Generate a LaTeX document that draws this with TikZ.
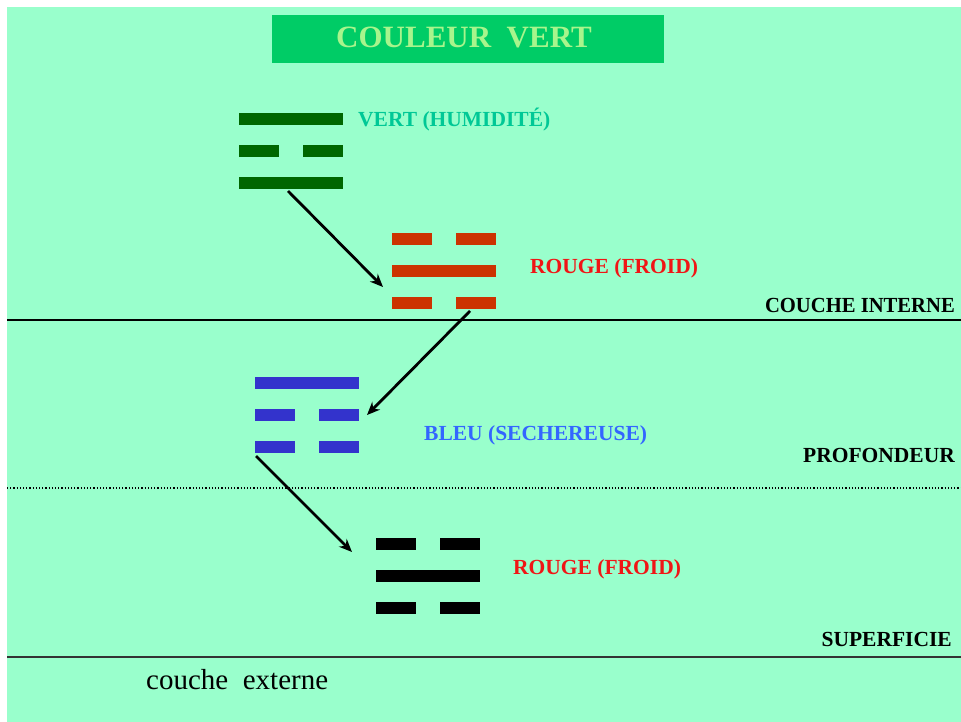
\documentclass[tikz,border=0pt]{standalone}
\usepackage{fontspec}
\setmainfont{Liberation Serif}
\usetikzlibrary{arrows.meta,calc}
\definecolor{mint}{HTML}{99FFCC}
\definecolor{titlegreen}{HTML}{00CC66}
\definecolor{titletext}{HTML}{A8F58C}
\definecolor{trigreen}{HTML}{006600}
\definecolor{trired}{HTML}{CC3300}
\definecolor{triblue}{HTML}{3333CC}
\definecolor{vertlbl}{HTML}{00C896}
\definecolor{rougelbl}{HTML}{F01515}
\definecolor{bleulbl}{HTML}{3366FF}
\newcommand\fullbar[3]{\fill[#3] (#1,#2) rectangle ++(104,12);}
\newcommand\brokenbar[3]{\fill[#3] (#1,#2) rectangle ++(40,12); \fill[#3] ($(#1,#2)+(64,0)$) rectangle ++(40,12);}
\begin{document}
\begin{tikzpicture}[x=1pt,y=-1pt,
  lbl/.style={font=\fontsize{21.5}{24}\selectfont\bfseries, inner sep=0pt},
  tribox/.style={minimum width=104pt, minimum height=76pt, anchor=north west, inner sep=0pt},
  arr/.style={line width=2.8pt, -{Stealth[length=13pt,width=11pt]}}]
\useasboundingbox (0,0) rectangle (961,722);
\fill[white] (0,0) rectangle (961,722);
\fill[mint] (7,7) rectangle (961,722);
% title
\node[fill=titlegreen, minimum width=392pt, minimum height=48pt, anchor=north west, inner sep=0pt] (titlebox) at (272,15) {};
\node[anchor=base, text=titletext, font=\fontsize{31}{34}\selectfont\bfseries, inner sep=0pt] (title) at (464,48) {COULEUR\ \ VERT};
% layer lines
\coordinate (l1a) at (7,320); \coordinate (l1b) at (961,320);
\coordinate (l2a) at (7,488); \coordinate (l2b) at (961,488);
\coordinate (l3a) at (7,657); \coordinate (l3b) at (961,657);
\draw[line width=1.8pt] (l1a) -- (l1b);
\draw[line width=1.2pt, dotted] (l2a) -- (l2b);
\draw[line width=2pt, black!80] (l3a) -- (l3b);
% trigram 1 (green)
\node[tribox] (tri1) at (239,113) {};
\fullbar{239}{113}{trigreen}
\brokenbar{239}{145}{trigreen}
\fullbar{239}{177}{trigreen}
% trigram 2 (red)
\node[tribox] (tri2) at (392,233) {};
\brokenbar{392}{233}{trired}
\fullbar{392}{265}{trired}
\brokenbar{392}{297}{trired}
% trigram 3 (blue)
\node[tribox] (tri3) at (255,377) {};
\fullbar{255}{377}{triblue}
\brokenbar{255}{409}{triblue}
\brokenbar{255}{441}{triblue}
% trigram 4 (black)
\node[tribox] (tri4) at (376,538) {};
\brokenbar{376}{538}{black}
\fullbar{376}{570}{black}
\brokenbar{376}{602}{black}
% labels
\node[lbl, text=vertlbl, anchor=base west] (lv) at (358,127) {VERT (HUMIDITÉ)};
\node[lbl, text=rougelbl, anchor=base west] (lr1) at (530,273) {ROUGE (FROID)};
\node[lbl, text=bleulbl, anchor=base west] (lb) at (424,440) {BLEU (SECHEREUSE)};
\node[lbl, text=rougelbl, anchor=base west] (lr2) at (513,574) {ROUGE (FROID)};
\node[lbl, anchor=base east, xscale=0.96] (ci) at (955,312) {COUCHE INTERNE};
\node[lbl, anchor=base east] (pr) at (955,462) {PROFONDEUR};
\node[lbl, anchor=base east] (su) at (952,646) {SUPERFICIE};
\node[anchor=base west, font=\fontsize{29}{32}\selectfont, inner sep=0pt] (ce) at (146,689) {couche\ \ externe};
% arrows
\coordinate (a1s) at (288,191); \coordinate (a1e) at (383,287);
\coordinate (a2s) at (470,311); \coordinate (a2e) at (367,415);
\coordinate (a3s) at (256,456); \coordinate (a3e) at (352,552);
\draw[arr] (a1s) -- (a1e);
\draw[arr] (a2s) -- (a2e);
\draw[arr] (a3s) -- (a3e);
\end{tikzpicture}
\end{document}
